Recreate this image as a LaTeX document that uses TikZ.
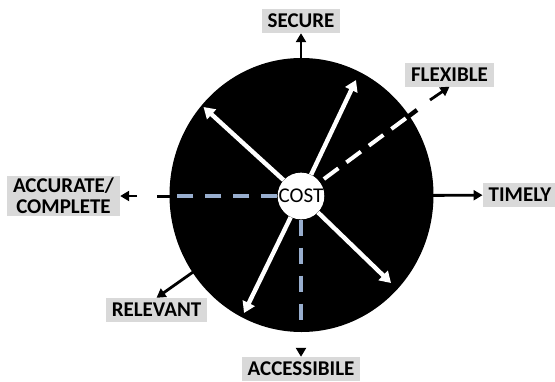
\documentclass[tikz,border=0pt]{standalone}
\usepackage{fontspec}
\setmainfont{Carlito}
\usetikzlibrary{arrows.meta,positioning}
\definecolor{taggray}{RGB}{217,217,217}
\definecolor{dashblue}{RGB}{152,174,206}

\begin{document}
\begin{tikzpicture}[x=1pt,y=-1pt,
        tag/.style={rectangle,fill=taggray,inner xsep=6pt,inner ysep=2pt,minimum height=24pt,
          align=center,font=\fontsize{21}{21}\selectfont\bfseries},
        axis/.style={-{Triangle[length=9pt,width=10pt]},line width=2.8pt},
        spoke/.style={-{Triangle[length=11pt,width=13pt]},white,line width=4.4pt},
        under/.style={line width=4.4pt,black},
        bluedash/.style={line width=3.6pt,dashblue,dash pattern=on 16pt off 12pt},
        whitedash/.style={line width=4pt,white,dash pattern=on 18pt off 10pt}]
        \useasboundingbox (0,0) rectangle (555,381);
        \fill[white] (0,0) rectangle (555,381);
        % the disk
        \fill[black] (301.5,195) ellipse [x radius=132pt, y radius=137pt];
        \node[circle,fill=white,inner sep=0pt,minimum size=44pt,
          font=\fontsize{21}{21}\selectfont] (cost) at (301,196) {COST};
        % labels
        \node[tag] (secure) at (301,21) {SECURE};
        \node[tag] (flexible) at (449.5,74.5) {FLEXIBLE};
        \node[tag,minimum width=72pt] (timely) at (520,195) {TIMELY};
        \node[tag] (accurate) at (63.5,196) {ACCURATE/\\COMPLETE};
        \node[tag] (relevant) at (156.5,310) {RELEVANT};
        \node[tag] (access) at (301,369) {ACCESSIBILE};
        % free ends
        \coordinate (flexend) at (417,110);
        \coordinate (flexgap) at (430,100);
        \coordinate (accend) at (157,196);
        \coordinate (accgap) at (137,196);
        \coordinate (downend) at (301,332);
        \coordinate (downgap) at (301,348);
        \coordinate (ne) at (356,80);
        \coordinate (nw) at (203.5,107);
        \coordinate (se) at (391,283);
        \coordinate (sw) at (244,313);
        % black axes
        \draw[axis] (cost) -- (secure);
        \draw[axis] (cost) -- (timely);
        \draw[axis] (cost) -- (relevant.north);
        \draw[axis] (flexgap) -- (flexible.south);
        \draw[axis] (accgap) -- (accurate.east);
        \draw[axis] (downgap) -- (access.north);
        % dashed axes
        \draw[under] (cost) -- (flexend);
        \draw[whitedash,dash phase=23pt,shorten >=12pt] (cost) -- (flexend);
        \draw[under,line width=3pt] (cost) -- (accend);
        \draw[bluedash,shorten >=11pt] (cost) -- (accend);
        \draw[under,line width=3pt] (cost) -- (downend);
        \draw[bluedash,shorten >=12pt] (cost) -- (downend);
        % white spokes
        \draw[spoke] (cost) -- (ne);
        \draw[spoke] (cost) -- (nw);
        \draw[spoke] (cost) -- (se);
        \draw[spoke] (cost) -- (sw);
      \end{tikzpicture}
\end{document}
